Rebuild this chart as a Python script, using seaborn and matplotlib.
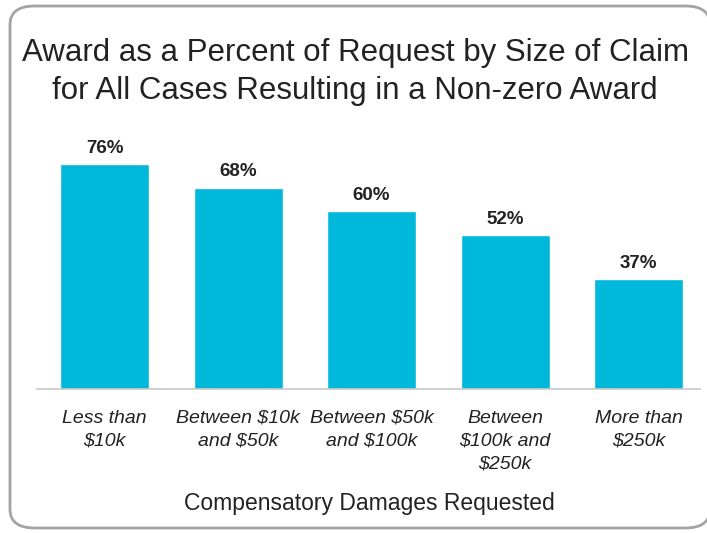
import matplotlib
matplotlib.use("Agg")
import matplotlib.pyplot as plt
import seaborn as sns
import pandas as pd
from matplotlib.patches import FancyBboxPatch

categories = ["Less than\n$10k", "Between $10k\nand $50k", "Between $50k\nand $100k",
              "Between\n$100k and\n$250k", "More than\n$250k"]
values = [76, 68, 60, 52, 37]
labels = ["76%", "68%", "60%", "52%", "37%"]
title = "Award as a Percent of Request by Size of Claim\nfor All Cases Resulting in a Non-zero Award"
xlabel = "Compensatory Damages Requested"

sns.set_theme(style="white")
plt.rcParams['font.family'] = ['Liberation Sans', 'DejaVu Sans']

df = pd.DataFrame({"cat": categories, "val": values})

fig = plt.figure(figsize=(7.07, 5.33), dpi=100)
fig.patch.set_facecolor("white")
border = FancyBboxPatch((10/707, 5/533), 700/707, 522/533,
                        boxstyle="round,pad=0,rounding_size=0.035",
                        transform=fig.transFigure, facecolor="white",
                        edgecolor="#a4a4a4", linewidth=2, zorder=-10)
fig.patches.append(border)

ax = fig.add_axes([37/707, 1 - 389/533, (700-37)/707, (389-130)/533])
ax.set_facecolor("none")
sns.barplot(data=df, x="cat", y="val", color="#00B8DA", width=0.667,
            saturation=1, ax=ax)
ax.set_xlim(-0.506, 4.46)
ax.set_ylim(0, 87.5)

for i, (v, t) in enumerate(zip(values, labels)):
    ax.text(i, v + 2.5, t, ha="center", va="bottom", fontsize=13.5,
            fontweight="bold", color="#222222")

for s in ["top", "right", "left"]:
    ax.spines[s].set_visible(False)
ax.spines["bottom"].set_color("#c8c8c8")
ax.spines["bottom"].set_linewidth(1.2)
ax.set_yticks([])
ax.set_ylabel("")
ax.tick_params(axis="x", length=0, pad=15)
for lbl in ax.get_xticklabels():
    lbl.set_fontstyle("italic")
    lbl.set_fontsize(14)
    lbl.set_color("#222222")
    lbl.set_linespacing(1.45)
ax.set_xlabel(xlabel, fontsize=16.5, color="#222222")
ax.xaxis.set_label_coords((369-37)/663, -(492-389)/259)

fig.text(355/707, 1 - 72/533, title, ha="center", va="center",
         fontsize=22.5, color="#222222", linespacing=1.35)

fig.savefig("out.png", dpi=100)
